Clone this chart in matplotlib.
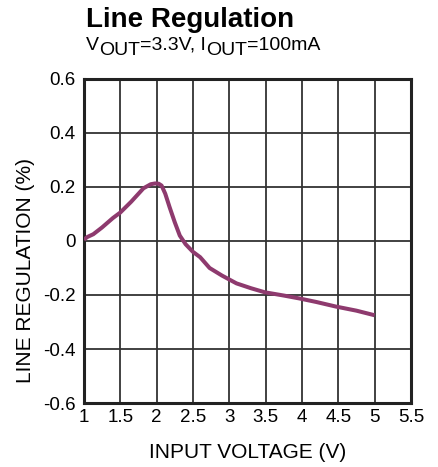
import matplotlib
matplotlib.use("Agg")
import matplotlib.pyplot as plt
import numpy as np

plt.rcParams['font.family'] = ['Liberation Sans', 'DejaVu Sans']

# data
vin = [1.0, 1.05, 1.13, 1.25, 1.4, 1.5, 1.65, 1.82, 1.92, 1.98, 2.03, 2.07, 2.12,
       2.18, 2.25, 2.32, 2.4, 2.5, 2.6, 2.73, 2.9, 3.1, 3.3, 3.49, 3.75, 3.97,
       4.2, 4.47, 4.75, 5.0]
reg = [0.005, 0.015, 0.025, 0.05, 0.085, 0.105, 0.145, 0.195, 0.21, 0.213, 0.212,
       0.205, 0.175, 0.125, 0.07, 0.02, -0.012, -0.04, -0.06, -0.1, -0.128, -0.157,
       -0.175, -0.19, -0.202, -0.213, -0.226, -0.243, -0.258, -0.275]

xticks = [1, 1.5, 2, 2.5, 3, 3.5, 4, 4.5, 5, 5.5]
xticklabels = ['1', '1.5', '2', '2.5', '3', '3.5', '4', '4.5', '5', '5.5']
yticks = [-0.6, -0.4, -0.2, 0, 0.2, 0.4, 0.6]
yticklabels = ['-0.6', '-0.4', '-0.2', '0', '0.2', '0.4', '0.6']

fig = plt.figure(figsize=(4.39, 4.67), dpi=100)
ax = fig.add_axes([0.191, 0.137, 0.745, 0.694])

ax.plot(vin, reg, color='#8e3a6e', linewidth=2.9, solid_capstyle='butt', zorder=3)

ax.set_xlim(1, 5.5)
ax.set_ylim(-0.6, 0.6)
ax.set_xticks(xticks)
ax.set_xticklabels(xticklabels, fontsize=13.5)
ax.set_yticks(yticks)
ax.set_yticklabels(yticklabels, fontsize=13.5)
ax.tick_params(axis='x', length=0, pad=4)
ax.tick_params(axis='y', length=0, pad=6)
ax.grid(True, color='#333333', linewidth=1.3)
for s in ax.spines.values():
    s.set_linewidth(2.2)
    s.set_color('#222222')

ax.set_xlabel('INPUT VOLTAGE (V)', fontsize=15)
ax.xaxis.set_label_coords(0.5, -0.122)
ax.set_ylabel('LINE REGULATION (%)', fontsize=15)
ax.yaxis.set_label_coords(-0.15, 0.41)

fig.text(0.196, 0.942, 'Line Regulation', fontsize=20, fontweight='bold',
         ha='left', va='baseline')

# subtitle: subscripts are same size, just lowered
renderer = fig.canvas.get_renderer()
pieces = [('V', 0), ('OUT', 1), ('=3.3V, I', 0), ('OUT', 1), ('=100mA', 0)]
xpos = 86
for txt, sub in pieces:
    ypix = 467 - 50 - (5 if sub else 0)
    t = fig.text(xpos / 439, ypix / 467, txt, fontsize=14, ha='left', va='baseline')
    bb = t.get_window_extent(renderer)
    xpos += bb.width

fig.savefig('out.png', dpi=100)
